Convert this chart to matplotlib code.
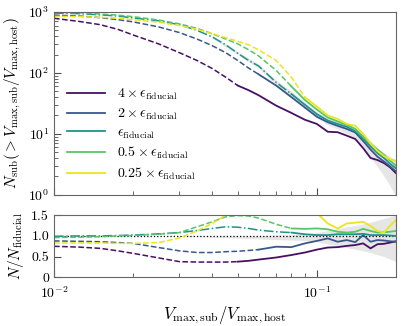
import numpy as np
import matplotlib
matplotlib.use('Agg')
import matplotlib.pyplot as plt

plt.rcParams['font.family'] = 'cmr10'
plt.rcParams['mathtext.fontset'] = 'cm'
plt.rcParams['axes.formatter.use_mathtext'] = True

# data
vmax_ratio = [0.01, 0.0125, 0.015, 0.0175, 0.02, 0.025, 0.03, 0.035, 0.04, 0.045,
              0.05, 0.055, 0.06, 0.07, 0.08, 0.09, 0.1, 0.11, 0.12, 0.13,
              0.14, 0.15, 0.16, 0.17, 0.18, 0.19, 0.2]

labels = [r'$4\times\epsilon_{\rm fiducial}$', r'$2\times\epsilon_{\rm fiducial}$',
          r'$\epsilon_{\rm fiducial}$', r'$0.5\times\epsilon_{\rm fiducial}$',
          r'$0.25\times\epsilon_{\rm fiducial}$']

n_4x = [790, 700, 620, 520, 420, 300, 215, 160, 118, 85,
        62, 52, 43, 29, 22, 17, 14.5, 10.8, 10.6, 9.3,
        8.2, 5.8, 4.0, 3.7, 3.3, 2.8, 2.25]
n_2x = [890, 860, 810, 750, 690, 570, 460, 360, 280, 215,
        160, 120, 95, 62, 40, 27, 19, 15.5, 13.5, 12,
        10.5, 7.6, 5.5, 4.2, 3.5, 2.9, 2.4]
n_fid = [960, 940, 900, 860, 800, 720, 620, 500, 390, 290,
         210, 160, 130, 70, 45, 30, 21, 16.5, 14.5, 13,
         11, 8.2, 6.2, 4.8, 4.0, 3.2, 2.7]
n_half = [990, 970, 930, 890, 840, 740, 640, 540, 440, 360,
          300, 240, 190, 110, 60, 36, 25, 18.5, 16, 14,
          12, 9, 7.0, 5.5, 4.5, 3.6, 3.0]
n_quarter = [850, 840, 820, 790, 750, 680, 600, 520, 440, 380,
             330, 290, 240, 160, 85, 40, 28, 20, 17.5, 14.5,
             13.5, 10, 7, 5.2, 4.3, 3.8, 3.6]

ratio_4x = [0.75, 0.73, 0.70, 0.64, 0.58, 0.47, 0.38, 0.37, 0.37, 0.37,
            0.38, 0.40, 0.43, 0.48, 0.54, 0.60, 0.67, 0.72, 0.73, 0.76,
            0.78, 0.82, 0.70, 0.80, 0.81, 0.84, 0.87]
ratio_2x = [0.88, 0.87, 0.86, 0.84, 0.82, 0.72, 0.64, 0.60, 0.60, 0.62,
            0.63, 0.65, 0.67, 0.74, 0.73, 0.82, 0.88, 0.94, 0.86, 0.90,
            0.85, 1.02, 0.86, 0.90, 0.89, 0.87, 0.86]
ratio_fid = [0.99, 1.0, 1.0, 1.01, 1.02, 1.05, 1.08, 1.13, 1.18, 1.22,
             1.21, 1.18, 1.14, 1.10, 1.08, 1.04, 1.02, 1.02, 1.04, 1.04,
             1.04, 1.05, 1.02, 1.02, 1.02, 1.01, 1.0]
ratio_half = [0.96, 0.97, 0.98, 1.0, 1.01, 1.04, 1.08, 1.22, 1.34, 1.46,
              1.49, 1.48, 1.43, 1.28, 1.18, 1.17, 1.18, 1.16, 1.10, 1.08,
              1.10, 1.17, 1.12, 1.08, 1.09, 1.10, 1.12]
ratio_quarter = [0.83, 0.83, 0.83, 0.82, 0.82, 0.84, 0.95, 1.12, 1.30, 1.50,
                 1.70, 1.90, 2.0, 2.2, 2.1, 1.9, 1.55, 1.30, 1.18, 1.30,
                 1.32, 1.34, 1.24, 1.12, 1.08, 1.25, 1.38]

# resolution limit: dashed below, solid above
res_limit = [0.05, 0.06, 0.08, 0.08, 0.09]

# scatter band around the fiducial run
band_x = [0.04, 0.05, 0.06, 0.07, 0.08, 0.09, 0.1, 0.11, 0.12, 0.13,
          0.14, 0.15, 0.16, 0.17, 0.18, 0.19, 0.2]
band_lo = [370, 200, 120, 64, 41, 27, 18.5, 14, 12, 10,
           8.5, 6.0, 4.0, 2.9, 2.0, 1.4, 0.9]
band_hi = [410, 225, 140, 76, 50, 33, 23, 18, 16, 14.5,
           12.5, 9.5, 7.2, 5.8, 4.9, 4.2, 3.7]
ratio_band_x = [0.03, 0.04, 0.05, 0.06, 0.07, 0.08, 0.09, 0.1, 0.12, 0.14,
                0.16, 0.18, 0.2]
ratio_band_lo = [0.99, 0.97, 0.95, 0.93, 0.91, 0.90, 0.89, 0.86, 0.76, 0.68,
                 0.60, 0.50, 0.38]
ratio_band_hi = [1.0, 1.0, 1.0, 1.01, 1.02, 1.03, 1.05, 1.08, 1.18, 1.25,
                 1.33, 1.42, 1.50]

counts = [n_4x, n_2x, n_fid, n_half, n_quarter]
ratios = [ratio_4x, ratio_2x, ratio_fid, ratio_half, ratio_quarter]
colors = plt.cm.viridis(np.linspace(0.04, 0.97, 5))
low_styles = ['--', '--', '-.', '--', '--']

fig = plt.figure(figsize=(4.07, 3.26), dpi=100)
ax = fig.add_axes([0.1327, 0.403, 0.8403, 0.560])
axr = fig.add_axes([0.1327, 0.149, 0.8403, 0.191])

x = np.array(vmax_ratio)
ax.fill_between(band_x, band_lo, band_hi, color='0.9', lw=0, zorder=0)
axr.fill_between(ratio_band_x, ratio_band_lo, ratio_band_hi, color='0.9', lw=0, zorder=0)
axr.axhline(1.0, color='k', ls=':', lw=0.9, zorder=1)

for n, r, c, ls, lim, lab in zip(counts, ratios, colors, low_styles, res_limit, labels):
    n = np.array(n)
    r = np.array(r)
    lo = x <= lim + 1e-9
    hi = x >= lim - 1e-9
    ax.plot(x[lo], n[lo], ls=ls, color=c, lw=1.1)
    ax.plot(x[hi], n[hi], ls='-', color=c, lw=1.3, label=lab)
    axr.plot(x[lo], r[lo], ls=ls, color=c, lw=1.1)
    axr.plot(x[hi], r[hi], ls='-', color=c, lw=1.3)

for a in (ax, axr):
    a.set_xscale('log')
    a.set_xlim(0.01, 0.2)
    a.tick_params(which='both', direction='in', top=False, right=False,
                  labelsize=10, color='0.3')
    a.tick_params(which='major', length=5)
    a.tick_params(which='minor', length=3)
    for s in a.spines.values():
        s.set_color('0.4')

ax.set_yscale('log')
ax.set_ylim(1, 1000)
ax.tick_params(labelbottom=False)
ax.set_ylabel(r'$N_{\rm sub}(>V_{\rm max,sub}/V_{\rm max,host})$', fontsize=11)
ax.legend(loc='lower left', frameon=False, fontsize=10, handlelength=2.8,
          labelspacing=0.32)

axr.set_ylim(0, 1.5)
axr.set_yticks([0, 0.5, 1.0, 1.5])
axr.set_yticklabels(['0', '0.5', '1.0', '1.5'])
axr.tick_params(axis='x', pad=6)
axr.set_ylabel(r'$N/N_{\rm fiducial}$', fontsize=11)
axr.set_xlabel(r'$V_{\rm max,sub}/V_{\rm max,host}$', fontsize=12, labelpad=2)

fig.align_ylabels([ax, axr])
plt.savefig('out.png', dpi=100)
